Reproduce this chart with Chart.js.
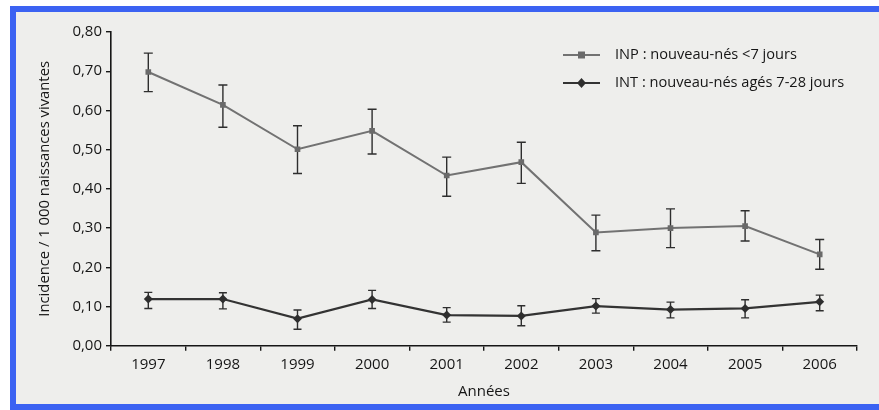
<!DOCTYPE html>
<html>
<head>
<meta charset="utf-8">
<script src="https://cdn.jsdelivr.net/npm/chart.js@4.4.0/dist/chart.umd.min.js"></script>
<style>
  html, body { margin: 0; padding: 0; background: #fff; }
  .frame {
    position: absolute; left: 10px; top: 6px; width: 880px; height: 392px;
    border-top: 6px solid #3b62f2; border-left: 6px solid #3b62f2; border-bottom: 6px solid #3b62f2;
    background: #eeeeec;
  }
  .chart { position: absolute; left: 0; top: 0; width: 879px; height: 410px; }
</style>
</head>
<body>
<div class="frame"></div>
<div class="chart"><canvas id="c"></canvas></div>
<script>
// data
const years = ['1997', '1998', '1999', '2000', '2001', '2002', '2003', '2004', '2005', '2006'];
const inpValues = [0.698, 0.614, 0.501, 0.548, 0.434, 0.468, 0.289, 0.300, 0.305, 0.233];
const inpLow    = [0.648, 0.557, 0.439, 0.489, 0.381, 0.414, 0.242, 0.250, 0.267, 0.195];
const inpHigh   = [0.746, 0.665, 0.561, 0.603, 0.481, 0.519, 0.333, 0.349, 0.344, 0.271];
const intValues = [0.119, 0.119, 0.069, 0.118, 0.078, 0.076, 0.101, 0.092, 0.095, 0.112];
const intLow    = [0.095, 0.094, 0.042, 0.095, 0.060, 0.051, 0.083, 0.071, 0.071, 0.089];
const intHigh   = [0.136, 0.135, 0.091, 0.141, 0.097, 0.102, 0.120, 0.111, 0.117, 0.129];
const legendLabels = ['INP : nouveau-nés <7 jours', 'INT : nouveau-nés agés 7-28 jours'];

const ink = '#161616';
const inpColor = '#727272';
const intColor = '#333333';
const font = '"Open Sans", sans-serif';

const errorBars = {
  id: 'errorBars',
  beforeDatasetsDraw(chart) {
    const ctx = chart.ctx;
    const yScale = chart.scales.y;
    const bounds = [[inpLow, inpHigh, 4.5], [intLow, intHigh, 4]];
    ctx.save();
    ctx.strokeStyle = '#2e2e2e';
    ctx.lineWidth = 1.4;
    bounds.forEach(([low, high, cap], i) => {
      chart.getDatasetMeta(i).data.forEach((pt, j) => {
        const x = pt.x;
        const y1 = yScale.getPixelForValue(low[j]);
        const y2 = yScale.getPixelForValue(high[j]);
        ctx.beginPath();
        ctx.moveTo(x, y1); ctx.lineTo(x, y2);
        ctx.moveTo(x - cap, y1); ctx.lineTo(x + cap, y1);
        ctx.moveTo(x - cap, y2); ctx.lineTo(x + cap, y2);
        ctx.stroke();
      });
    });
    ctx.restore();
  }
};

// legend drawn by hand: line with marker in the middle
const lineLegend = {
  id: 'lineLegend',
  afterDraw(chart) {
    const ctx = chart.ctx;
    ctx.save();
    chart.data.datasets.forEach((ds, i) => {
      const y = 55 + i * 28;
      ctx.strokeStyle = ds.borderColor;
      ctx.lineWidth = 2;
      ctx.beginPath();
      ctx.moveTo(563, y); ctx.lineTo(600, y);
      ctx.stroke();
      ctx.fillStyle = ds.pointBackgroundColor;
      ctx.beginPath();
      if (ds.pointStyle === 'rect') {
        ctx.rect(578, y - 3.5, 7, 7);
      } else {
        ctx.moveTo(581.5, y - 5); ctx.lineTo(586, y); ctx.lineTo(581.5, y + 5); ctx.lineTo(577, y);
        ctx.closePath();
      }
      ctx.fill();
      ctx.fillStyle = ink;
      ctx.font = '14.6px ' + font;
      ctx.textBaseline = 'middle';
      ctx.fillText(legendLabels[i], 615, y);
    });
    ctx.restore();
  }
};

new Chart(document.getElementById('c').getContext('2d'), {
  type: 'line',
  data: {
    labels: years,
    datasets: [{
      label: legendLabels[0],
      data: inpValues,
      borderColor: inpColor,
      borderWidth: 2,
      pointStyle: 'rect',
      pointRadius: 4,
      pointBackgroundColor: '#6a6a6a',
      pointBorderWidth: 0,
      tension: 0
    }, {
      label: legendLabels[1],
      data: intValues,
      borderColor: intColor,
      borderWidth: 2.2,
      pointStyle: 'rectRot',
      pointRadius: 4.5,
      pointBackgroundColor: '#2e2e2e',
      pointBorderWidth: 0,
      tension: 0
    }]
  },
  options: {
    responsive: true,
    maintainAspectRatio: false,
    animation: false,
    layout: { padding: { left: 0, right: 22, top: 32, bottom: 0 } },
    scales: {
      x: {
        offset: true,
        afterFit: (s) => { s.height = 64.3; },
        grid: { offset: true, drawOnChartArea: false, drawTicks: true, tickLength: 5, color: ink, lineWidth: 1.4 },
        border: { color: ink, width: 1.6 },
        ticks: { color: ink, padding: 5, font: { family: font, size: 15 } },
        title: { display: true, text: 'Années', color: ink, font: { family: font, size: 15 }, padding: { top: 0, bottom: 9 } }
      },
      y: {
        min: 0, max: 0.8,
        afterFit: (s) => { s.width = 111; },
        grid: { drawOnChartArea: false, drawTicks: true, tickLength: 5, color: ink, lineWidth: 1.4 },
        border: { color: ink, width: 1.6 },
        ticks: {
          stepSize: 0.1, color: ink, padding: 4, font: { family: font, size: 15 },
          callback: (v) => v.toFixed(2).replace('.', ',')
        },
        title: { display: true, text: 'Incidence / 1 000 naissances vivantes', color: ink, font: { family: font, size: 14.8 }, padding: { top: 36.1, bottom: 0 } }
      }
    },
    plugins: {
      legend: { display: false },
      tooltip: { enabled: false }
    }
  },
  plugins: [errorBars, lineLegend]
});
</script>
</body>
</html>
